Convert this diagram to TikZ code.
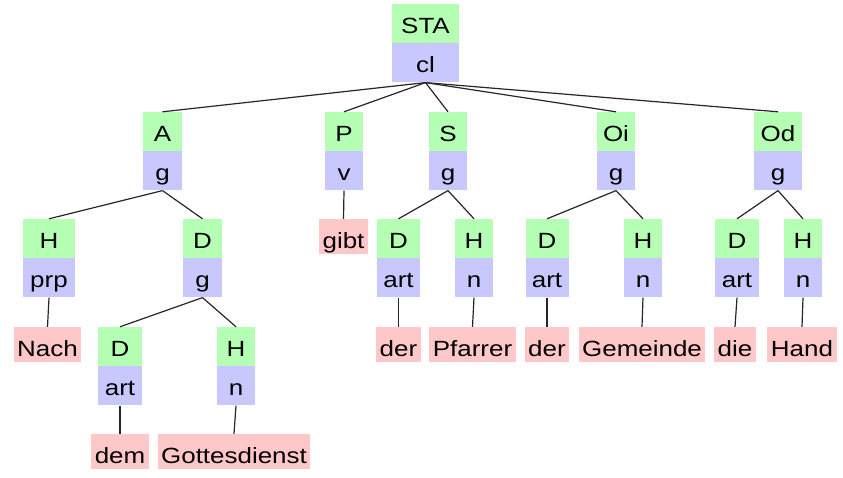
\documentclass[tikz,border=0pt]{standalone}
\usepackage{fontspec}
\setmainfont{Liberation Sans}[FakeStretch=1.18]
\usepackage{tikz}
\usetikzlibrary{positioning}

\definecolor{catgreen}{RGB}{180,255,180}
\definecolor{funblue}{RGB}{200,200,255}
\definecolor{wordpink}{RGB}{255,200,200}

\tikzset{
    cat/.style={fill=catgreen, inner xsep=0pt, inner ysep=0pt, text height=29pt, text depth=10pt},
    fun/.style={fill=funblue, inner xsep=0pt, inner ysep=0pt, text height=29pt, text depth=10pt},
    word/.style={fill=wordpink, inner xsep=3.5pt, inner ysep=0pt, text height=29pt, text depth=6pt},
    edge/.style={draw=black!85, line width=1.2pt}
}

\begin{document}
\begin{tikzpicture}[x=1pt, y=-1pt, every node/.style={font=\fontsize{22}{26}\selectfont}]
    \useasboundingbox (0,0) rectangle (843,477);

    % Knoten mit Funktion (oben) und Kategorie (unten)
    \foreach \nm/\x/\y/\w/\up/\dn in {
        STA/425.5/23.5/67/STA/cl,
        A/162.5/131.5/39/A/g, P/344/131.5/38/P/v, S/448/131.5/38/S/g,
        Oi/616/131.5/38/Oi/g, Od/778/131.5/48/Od/g,
        AH/49/238.5/52/H/prp, AD/202.5/238.5/39/D/g,
        SD/398.5/238.5/43/D/art, SH/474/238.5/38/H/n,
        OiD/547/238.5/43/D/art, OiH/643/238.5/38/H/n,
        OdD/737/238.5/44/D/art, OdH/803/238.5/38/H/n,
        ADD/120/346.5/44/D/art, ADH/236/346.5/38/H/n} {
        \node[cat, minimum width=\w] (\nm) at (\x,\y) {\up};
        \node[fun, minimum width=\w, below=0pt of \nm] (\nm-f) {\dn};
    }

    % Woerter
    \foreach \nm/\x/\y/\txt in {
        nach/47.5/344.5/Nach, gibt/343.5/236.5/gibt,
        der1/398.5/344.5/der, pfarrer/472.5/344.5/Pfarrer,
        der2/547/344.5/der, gemeinde/642/344.5/Gemeinde,
        die/735/344.5/die, hand/802/344.5/Hand,
        dem/120/451.5/dem, gottesdienst/234/451.5/Gottesdienst} {
        \node[word] (\nm) at (\x,\y) {\txt};
    }

    % Kanten
    \foreach \a/\b in {
        STA-f/A, STA-f/P, STA-f/S, STA-f/Oi, STA-f/Od,
        A-f/AH, A-f/AD, AH-f/nach, AD-f/ADD, AD-f/ADH,
        ADD-f/dem, ADH-f/gottesdienst, P-f/gibt,
        S-f/SD, S-f/SH, SD-f/der1, SH-f/pfarrer,
        Oi-f/OiD, Oi-f/OiH, OiD-f/der2, OiH-f/gemeinde,
        Od-f/OdD, Od-f/OdH, OdD-f/die, OdH-f/hand} {
        \draw[edge] (\a.south) -- (\b.north);
    }
\end{tikzpicture}
\end{document}
